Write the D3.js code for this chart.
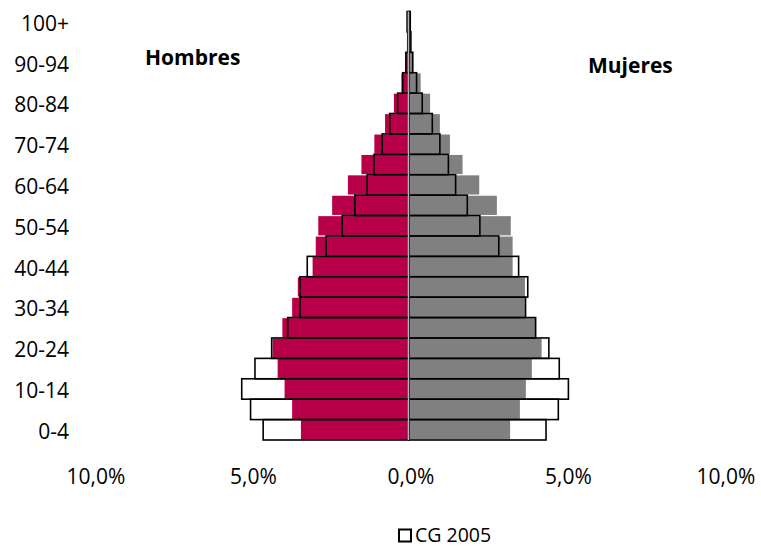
<!DOCTYPE html>
<html>
<head>
	<title>Pirámide de población</title>
	<meta charset='utf-8'>
	<style>
		body {
			margin: 0;
			background: #fff;
		}

		text {
			font-family: 'Open Sans', 'Noto Sans', sans-serif;
			fill: #000;
		}

		.age-label, .tick-label {
			font-size: 21px;
		}

		.legend-text {
			font-size: 19.5px;
		}

		.sex-label {
			font-size: 21px;
			font-weight: bold;
		}

		.male {
			fill: #b8004a;
		}

		.female {
			fill: #808080;
		}

		.census {
			fill: none;
			stroke: #000;
			stroke-width: 1.6px;
		}

		.center-line {
			stroke: #b4b4b4;
			stroke-width: 1.5px;
		}
	</style>
</head>
<body>

<script src='https://d3js.org/d3.v7.min.js'></script>
<script>
	'use strict';

	const width = 761;
	const height = 548;

	// grupos de edad, de abajo hacia arriba
	const ages = ['0-4', '5-9', '10-14', '15-19', '20-24', '25-29', '30-34', '35-39',
		'40-44', '45-49', '50-54', '55-59', '60-64', '65-69', '70-74', '75-79',
		'80-84', '85-89', '90-94', '95-99', '100+'];

	// proyección (barras rellenas), % del total
	const menValues = [3.43, 3.71, 3.95, 4.17, 4.33, 4.02, 3.71, 3.53, 3.06, 2.96, 2.88,
		2.44, 1.94, 1.51, 1.10, 0.76, 0.48, 0.24, 0.10, 0.03, 0.02];
	const womenValues = [3.21, 3.52, 3.71, 3.90, 4.21, 4.00, 3.68, 3.68, 3.29, 3.29, 3.23,
		2.79, 2.23, 1.70, 1.30, 0.98, 0.67, 0.37, 0.12, 0.05, 0.02];

	// CG 2005 (barras con contorno)
	const menCensus = [4.63, 5.03, 5.31, 4.89, 4.36, 3.85, 3.46, 3.46, 3.23, 2.63, 2.12,
		1.72, 1.33, 1.11, 0.85, 0.61, 0.36, 0.20, 0.10, 0.04, 0.06];
	const womenCensus = [4.35, 4.74, 5.06, 4.77, 4.44, 4.02, 3.70, 3.77, 3.48, 2.85, 2.25,
		1.85, 1.48, 1.25, 0.98, 0.74, 0.42, 0.24, 0.12, 0.06, 0.04];

	const xTicks = [-10, -5, 0, 5, 10];
	const labelledAges = ages.filter(function(d, i) {return i % 2 === 0;});

	const xScale = d3.scaleLinear().domain([-10, 10]).range([94, 724]);
	const yScale = d3.scaleBand().domain(ages).range([440, 11.5]);

	const fmt = function(v) {return Math.abs(v).toFixed(1).replace('.', ',') + '%';};

	const svg = d3.select('body').append('svg')
		.attr('width', width)
		.attr('height', height);

	const rows = ages.map(function(age, i) {
		return {age: age, men: menValues[i], women: womenValues[i], menC: menCensus[i], womenC: womenCensus[i]};
	});

	const bandPad = 0.6;

	// barras rellenas
	svg.append('g').selectAll('rect')
		.data(rows)
		.join('rect')
		.attr('class', 'male')
		.attr('x', function(d) {return xScale(-d.men);})
		.attr('y', function(d) {return yScale(d.age) + bandPad;})
		.attr('width', function(d) {return xScale(0) - xScale(-d.men);})
		.attr('height', yScale.bandwidth() - bandPad * 2);

	svg.append('g').selectAll('rect')
		.data(rows)
		.join('rect')
		.attr('class', 'female')
		.attr('x', xScale(0))
		.attr('y', function(d) {return yScale(d.age) + bandPad;})
		.attr('width', function(d) {return xScale(d.women) - xScale(0);})
		.attr('height', yScale.bandwidth() - bandPad * 2);

	// contornos CG 2005
	svg.append('g').selectAll('rect')
		.data(rows)
		.join('rect')
		.attr('class', 'census')
		.attr('x', function(d) {return xScale(-d.menC);})
		.attr('y', function(d) {return yScale(d.age);})
		.attr('width', function(d) {return xScale(0) - xScale(-d.menC);})
		.attr('height', yScale.bandwidth());

	svg.append('g').selectAll('rect')
		.data(rows)
		.join('rect')
		.attr('class', 'census')
		.attr('x', xScale(0))
		.attr('y', function(d) {return yScale(d.age);})
		.attr('width', function(d) {return xScale(d.womenC) - xScale(0);})
		.attr('height', yScale.bandwidth());

	// eje central
	svg.append('line')
		.attr('class', 'center-line')
		.attr('x1', xScale(0) - 0.5)
		.attr('x2', xScale(0) - 0.5)
		.attr('y1', yScale.range()[1])
		.attr('y2', yScale.range()[0]);

	// etiquetas de edad
	svg.append('g').selectAll('text')
		.data(labelledAges)
		.join('text')
		.attr('class', 'age-label')
		.attr('text-anchor', 'end')
		.attr('x', 69)
		.attr('y', function(d) {return yScale(d) + yScale.bandwidth() / 2 + 9;})
		.text(function(d) {return d;});

	// etiquetas del eje x
	svg.append('g').selectAll('text')
		.data(xTicks)
		.join('text')
		.attr('class', 'tick-label')
		.attr('text-anchor', 'middle')
		.attr('x', function(d) {return xScale(d) + 2;})
		.attr('y', 484)
		.text(fmt);

	svg.append('text')
		.attr('class', 'sex-label')
		.attr('x', 145)
		.attr('y', 65)
		.text('Hombres');

	svg.append('text')
		.attr('class', 'sex-label')
		.attr('x', 588)
		.attr('y', 73)
		.text('Mujeres');

	// leyenda
	const legend = svg.append('g');
	legend.append('rect')
		.attr('x', 399)
		.attr('y', 529.5)
		.attr('width', 12)
		.attr('height', 12)
		.attr('fill', '#fff')
		.attr('stroke', '#000')
		.attr('stroke-width', 2);
	legend.append('text')
		.attr('class', 'legend-text')
		.attr('x', 415)
		.attr('y', 542)
		.text('CG 2005');
</script>
</body>
</html>
